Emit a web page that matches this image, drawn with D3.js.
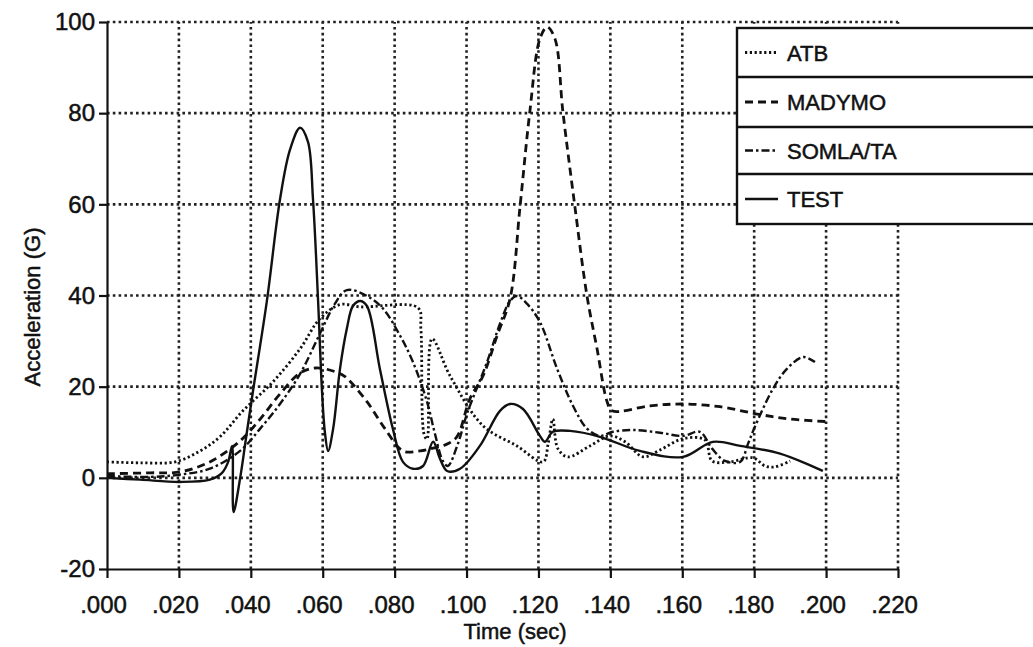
<!DOCTYPE html>
<html>
<head>
<meta charset="utf-8">
<script src="https://cdn.jsdelivr.net/npm/d3@7"></script>
<style>
  body { margin: 0; background: #fff; }
  text { font-family: "Liberation Sans", Arial, sans-serif; fill: #111; stroke: #111; stroke-width: 0.5px; }
</style>
</head>
<body>
<svg id="chart" width="1033" height="647"></svg>
<script>
// values (time in sec, acceleration in G)
const xTicks = [0, 0.02, 0.04, 0.06, 0.08, 0.10, 0.12, 0.14, 0.16, 0.18, 0.20, 0.22];
const yTicks = [-20, 0, 20, 40, 60, 80, 100];
const seriesNames = ['ATB', 'MADYMO', 'SOMLA/TA', 'TEST'];

const atbTime = [0, 0.0092, 0.0189, 0.0259, 0.0314, 0.0378, 0.0462, 0.0537, 0.0592, 0.0648, 0.0704,
  0.0865, 0.0873, 0.0882, 0.0890, 0.0904, 0.0954, 0.1046, 0.1140, 0.1213, 0.1227, 0.1240, 0.1254,
  0.1282, 0.1343, 0.1399, 0.1441, 0.1491, 0.1538, 0.1602, 0.1663, 0.1683, 0.1733, 0.1797, 0.1830,
  0.1858, 0.1900];
const atbAccel = [3.5, 3.3, 3.5, 5.9, 9.0, 14.7, 21.1, 28.3, 34.9, 38.0, 37.5,
  37.3, 32.7, 9.5, 8.5, 30.5, 22.4, 11.4, 7.0, 3.5, 7.5, 12.9, 6.4,
  4.6, 7.0, 9.2, 7.9, 4.6, 6.1, 8.6, 8.3, 3.7, 3.5, 4.4, 2.6,
  2.4, 3.7];

const madymoTime = [0, 0.012, 0.0203, 0.0286, 0.037, 0.0426, 0.0481, 0.0537, 0.0581, 0.0634, 0.0662,
  0.0723, 0.0773, 0.0823, 0.0871, 0.0907, 0.0940, 0.0973, 0.1009, 0.1046, 0.1085, 0.1121, 0.1149,
  0.1176, 0.1204, 0.1224, 0.1246, 0.1268, 0.1301, 0.1335, 0.1363, 0.1391, 0.1405, 0.1510, 0.1602,
  0.1705, 0.1808, 0.1900, 0.2011];
const madymoAccel = [0.9, 1.1, 1.3, 3.5, 8.1, 12.9, 18.4, 23.0, 24.1, 23.3, 22.2,
  16.7, 10.8, 5.9, 5.9, 6.5, 7.2, 9.0, 17.3, 22.4, 31.2, 39.3, 59.7,
  80.3, 96.3, 98.9, 96.3, 80.3, 59.7, 39.9, 28.3, 16.7, 14.7, 15.8, 16.2,
  15.6, 14.0, 12.9, 12.3];

const somlaTime = [0, 0.012, 0.0203, 0.0286, 0.037, 0.0426, 0.0481, 0.0537, 0.0592, 0.0634, 0.0667,
  0.0723, 0.0768, 0.0815, 0.0851, 0.0890, 0.0912, 0.0934, 0.0948, 0.0976, 0.1001, 0.1057, 0.1093,
  0.1121, 0.1140, 0.1168, 0.1204, 0.1252, 0.1296, 0.1335, 0.1371, 0.1407, 0.1463, 0.1538, 0.1602,
  0.1649, 0.1683, 0.1719, 0.1761, 0.1783, 0.1802, 0.1852, 0.1891, 0.1936, 0.1969];
const somlaAccel = [0.4, 0.2, 0.7, 2.0, 5.9, 10.8, 16.2, 22.8, 31.6, 38.2, 41.2,
  39.9, 37.1, 31.2, 25.4, 16.7, 9.7, 3.7, 2.6, 7.5, 14.0, 25.4, 33.8,
  38.8, 39.9, 38.2, 34.2, 23.9, 15.8, 10.8, 9.2, 10.1, 10.5, 9.9, 9.2,
  10.1, 6.4, 3.7, 3.5, 7.5, 11.2, 19.5, 23.9, 26.5, 25.4];

const testTime = [0, 0.0092, 0.0203, 0.0286, 0.032, 0.0337, 0.0348, 0.0352, 0.037, 0.0389, 0.0406,
  0.0445, 0.0481, 0.0509, 0.0537, 0.0559, 0.0573, 0.0587, 0.0598, 0.0606, 0.0615, 0.0629, 0.0648,
  0.0667, 0.0684, 0.0704, 0.0723, 0.0759, 0.0795, 0.0823, 0.0851, 0.0879, 0.0907, 0.0926, 0.0946,
  0.0982, 0.1037, 0.1093, 0.1121, 0.1157, 0.1204, 0.1218, 0.1240, 0.1288, 0.1371, 0.1482, 0.1602,
  0.1685, 0.1761, 0.1872, 0.1991];
const testAccel = [0, -0.4, -0.9, -0.4, 1.1, 3.5, 7.0, -7.5, -0.2, 10.0, 19.0,
  39.0, 61.0, 72.0, 76.8, 73.7, 61.0, 39.0, 19.0, 10.0, 5.9, 10.8, 23.9,
  32.7, 37.7, 38.8, 37.7, 23.9, 10.8, 3.5, 2.0, 2.6, 7.9, 4.2, 1.5,
  2.0, 7.0, 14.7, 16.2, 15.1, 9.2, 7.9, 10.1, 10.3, 9.0, 5.9, 4.6,
  7.9, 7.0, 5.3, 1.5];

const series = [
  {name: seriesNames[0], t: atbTime, v: atbAccel, dash: '2.2,2.6', width: 2.8},
  {name: seriesNames[1], t: madymoTime, v: madymoAccel, dash: '8,5', width: 2.8},
  {name: seriesNames[2], t: somlaTime, v: somlaAccel, dash: '8,3,2.5,3', width: 2.4},
  {name: seriesNames[3], t: testTime, v: testAccel, dash: null, width: 2.4}
];

const svg = d3.select('#chart');

const x = d3.scaleLinear().domain([0, 0.22]).range([107, 898]);
const y = d3.scaleLinear().domain([-20, 100]).range([569, 22]);

// dotted grid
const grid = svg.append('g')
  .attr('stroke', '#222')
  .attr('stroke-width', 2.6)
  .attr('stroke-dasharray', '2.6,3.2');

grid.selectAll('.vgrid')
    .data(xTicks.filter(d => d > 0))
  .enter().append('line')
    .attr('x1', d => x(d))
    .attr('x2', d => x(d))
    .attr('y1', y(-20))
    .attr('y2', y(100));

grid.selectAll('.hgrid')
    .data(yTicks.filter(d => d > -20))
  .enter().append('line')
    .attr('x1', x(0))
    .attr('x2', x(0.22))
    .attr('y1', d => y(d))
    .attr('y2', d => y(d));

// curves
const line = d3.line()
  .x(d => x(d[0]))
  .y(d => y(d[1]))
  .curve(d3.curveCatmullRom.alpha(0.5));

series.forEach(s => {
  svg.append('path')
    .datum(s.t.map((t, i) => [t, s.v[i]]))
    .attr('fill', 'none')
    .attr('stroke', '#111')
    .attr('stroke-width', s.width)
    .attr('stroke-dasharray', s.dash)
    .attr('d', line);
});

// axes
const xFormat = d => d3.format('.3f')(d).replace(/^0/, '');

const xAxis = d3.axisBottom(x)
  .tickValues(xTicks)
  .tickFormat(xFormat)
  .tickSize(9)
  .tickSizeOuter(0)
  .tickPadding(18);

const yAxis = d3.axisLeft(y)
  .tickValues(yTicks)
  .tickFormat(d => d < 0 ? '-' + Math.abs(d) : d)
  .tickSize(8)
  .tickSizeOuter(0)
  .tickPadding(4);

const axisX = svg.append('g')
  .attr('transform', `translate(0, ${y(-20)})`)
  .call(xAxis);

const axisY = svg.append('g')
  .attr('transform', `translate(${x(0)}, 0)`)
  .call(yAxis);

[axisX, axisY].forEach(a => {
  a.selectAll('path, line').attr('stroke', '#111').attr('stroke-width', 2.2);
  a.selectAll('text')
    .attr('fill', '#111')
    .style('font-family', '"Liberation Sans", Arial, sans-serif')
    .style('font-size', '24px');
});
axisX.selectAll('text').attr('dx', -4);

// axis titles
svg.append('text')
  .attr('x', 515)
  .attr('y', 639)
  .attr('text-anchor', 'middle')
  .style('font-size', '22px')
  .text('Time (sec)');

svg.append('text')
  .attr('transform', 'translate(40, 307) rotate(-90)')
  .attr('text-anchor', 'middle')
  .style('font-size', '22px')
  .text('Acceleration (G)');

// legend
const legendTop = 28;
const legendRows = [28, 77, 127, 174, 224];

const legend = svg.append('g');

legend.append('rect')
  .attr('x', 737)
  .attr('y', legendTop)
  .attr('width', 330)
  .attr('height', legendRows[4] - legendTop)
  .attr('fill', '#fff')
  .attr('stroke', '#111')
  .attr('stroke-width', 2.4);

legend.selectAll('.sep')
    .data(legendRows.slice(1, 4))
  .enter().append('line')
    .attr('x1', 737)
    .attr('x2', 1040)
    .attr('y1', d => d)
    .attr('y2', d => d)
    .attr('stroke', '#111')
    .attr('stroke-width', 2.4);

series.forEach((s, i) => {
  const cy = (legendRows[i] + legendRows[i + 1]) / 2;
  legend.append('line')
    .attr('x1', 745)
    .attr('x2', 778)
    .attr('y1', cy)
    .attr('y2', cy)
    .attr('stroke', '#111')
    .attr('stroke-width', s.width)
    .attr('stroke-dasharray', s.dash);
  legend.append('text')
    .attr('x', 787)
    .attr('y', cy + 8)
    .style('font-size', '22px')
    .text(s.name);
});
</script>
</body>
</html>
